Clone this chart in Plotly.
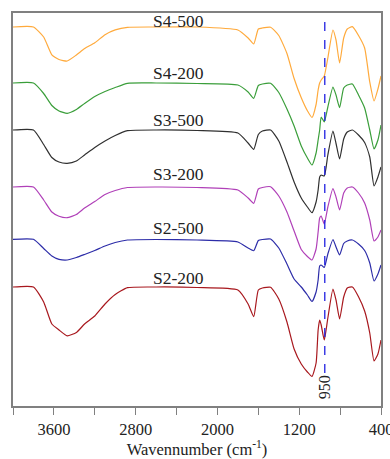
import plotly.graph_objects as go

# Wavenumber knots (cm-1)
wavenumber = [4000, 3800, 3700, 3620, 3550, 3470, 3380, 3300, 3200, 3100, 3000, 2880,
              2600, 2200, 1800, 1700, 1645, 1600, 1560, 1480, 1400, 1320, 1250, 1180,
              1120, 1075, 1035, 1015, 1000, 985, 955, 920, 870, 840, 805, 765, 730,
              680, 620, 560, 510, 468, 430, 400]

S4_500 = [379, 379, 369, 351.2, 346.5, 345, 351, 357.4, 363.2, 371.3, 376.1, 378.7,
          379, 379, 376, 368, 362, 377, 378, 378.7, 370.5, 352.5, 327.5, 308.2,
          295.2, 288.5, 301.5, 316, 323, 326, 330, 348.2, 376, 366, 343, 368, 377,
          379.3, 370.5, 358, 324, 305, 317, 330]
S4_200 = [323, 323, 312.5, 300.5, 295, 292.7, 296.5, 302.5, 309.5, 314.5, 318.5, 322.7,
          323, 322.5, 321, 314, 307.7, 320.5, 322, 322.7, 313.5, 297, 280, 260,
          248, 241, 253, 266, 276, 289, 284, 299, 319, 311, 298.3, 318, 321, 322,
          311, 298, 276, 257, 266, 281]
S3_500 = [276, 276, 261.5, 248.5, 244, 242.7, 245, 251, 258.5, 265, 270.5, 275.3,
          276, 275.5, 273, 263, 256.7, 271.5, 275, 276, 265, 244, 224, 208,
          199, 193.3, 204, 216, 229, 231, 230, 251, 275, 262.5, 247, 267, 274,
          276, 271, 263.5, 249, 220, 229, 239]
S3_200 = [219, 219, 206, 194, 189.8, 188.3, 191.5, 198, 204.5, 211.5, 215.5, 218.5,
          219, 218.5, 216, 208, 202.7, 217, 218.5, 219.3, 210, 194, 175, 156.5,
          149.5, 146, 157, 174, 188, 190, 182, 199, 217.5, 209, 196, 213, 218,
          219, 213, 203, 186, 165, 169, 176]
S2_500 = [166.7, 166.7, 157.5, 150, 146.7, 146, 148.5, 151.5, 155.5, 160, 163.5, 166,
          166.5, 166, 164, 158, 155.3, 165.5, 166.5, 167, 158, 142, 127, 119,
          111, 104.5, 114, 126, 140, 141, 138.5, 152, 166.5, 159, 151, 162.5, 165,
          166, 162, 155.5, 143, 125, 132, 141]
S2_200 = [119, 119, 104, 82, 76, 70.2, 73.5, 82, 90, 102, 111.5, 118.3,
          119, 118.5, 116, 102, 89.3, 116, 118, 118.7, 107, 84, 57, 42,
          34, 29.5, 43, 76, 86, 81, 66, 88, 117, 106, 87, 109, 118,
          119, 109.3, 95, 73, 45, 52, 66]

series_names = ["S4-500", "S4-200", "S3-500", "S3-200", "S2-500", "S2-200"]
series_values = [S4_500, S4_200, S3_500, S3_200, S2_500, S2_200]
series_colors = ["#FFAA3C", "#3A9E3A", "#303030", "#B040B8", "#2C2CA8", "#A8181E"]
label_y = [385.5, 333.5, 286.5, 232, 178.5, 128.5]
label_x = 2380

marker_wn = 950
marker_label = "950"

fig = go.Figure()
for name, vals, col in zip(series_names, series_values, series_colors):
    fig.add_trace(go.Scatter(x=wavenumber, y=vals, mode="lines", name=name,
                             line=dict(color=col, width=1.2, shape="spline", smoothing=0.5),
                             showlegend=False))

for name, ly in zip(series_names, label_y):
    fig.add_annotation(x=label_x, y=ly, text=name, showarrow=False,
                       font=dict(family="Liberation Serif", size=17.5, color="#222"),
                       xanchor="center", yanchor="middle")

fig.add_shape(type="line", x0=marker_wn, x1=marker_wn, y0=33, y1=393,
              line=dict(color="#2020E0", width=1.3, dash="dash"))
fig.add_annotation(x=marker_wn, y=18.5, text=marker_label, showarrow=False, textangle=-90,
                   font=dict(family="Liberation Serif", size=16, color="#222"),
                   xanchor="center", yanchor="middle")

fig.update_layout(
    width=390, height=459,
    margin=dict(l=13, r=9, t=13, b=53, autoexpand=False),
    paper_bgcolor="white", plot_bgcolor="white",
    xaxis=dict(range=[4000, 400], tickmode="linear", tick0=400, dtick=800,
               automargin=False,
               ticks="outside", ticklen=7, tickcolor="#808080", tickwidth=1.3,
               minor=dict(tick0=400, dtick=400, ticks="outside", ticklen=7,
                          tickcolor="#808080", tickwidth=1.3, showgrid=False),
               ticklabeloverflow="allow",
               showline=True, linecolor="#808080", linewidth=1.5, mirror=True,
               showgrid=False, zeroline=False,
               tickfont=dict(family="Liberation Serif", size=16.5, color="#222"),
               title=dict(text="Wavennumber (cm<sup>-1</sup>)", standoff=6,
                          font=dict(family="Liberation Serif", size=16.5, color="#222"))),
    yaxis=dict(range=[0, 393], showticklabels=False, ticks="", automargin=False,
               showline=True, linecolor="#808080", linewidth=1.5, mirror=True,
               showgrid=False, zeroline=False),
)

fig.write_html("out.html")
